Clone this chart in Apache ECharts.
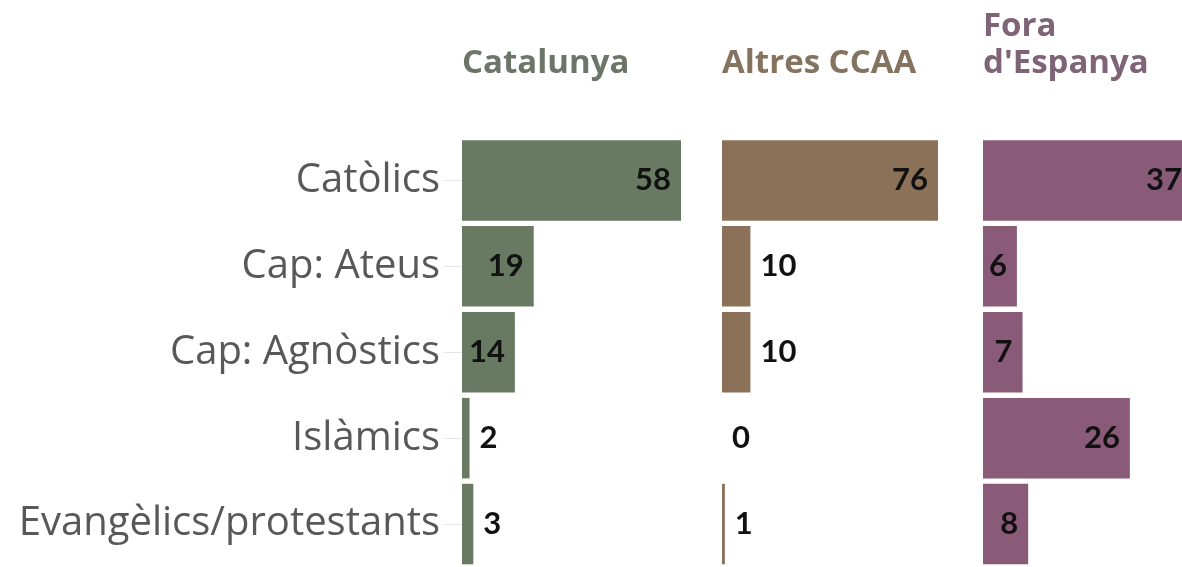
<!DOCTYPE html>
<html>
<head>
<meta charset="utf-8">
<script src="https://cdn.jsdelivr.net/npm/echarts@6/dist/echarts.min.js"></script>
<style>
html,body{margin:0;padding:0;background:#fff;overflow:hidden;width:1182px;height:567px;}
#chart{width:1192px;height:567px;}
</style>
</head>
<body>
<div id="chart"></div>
<script>
const categories = ['Catòlics', 'Cap: Ateus', 'Cap: Agnòstics', 'Islàmics', 'Evangèlics/protestants'];
const panelTitles = ['Catalunya', 'Altres CCAA', "Fora\nd'Espanya"];
const catalunya = [58, 19, 14, 2, 3];
const altresCCAA = [76, 10, 10, 0, 1];
const foraEspanya = [37, 6, 7, 26, 8];

const panelValues = [catalunya, altresCCAA, foraEspanya];
const barColors = ['#687a62', '#8a7158', '#8a5b79'];
const titleColors = ['#6d7568', '#84735f', '#7e6476'];
const gridLeft = [462, 722, 983];
const gridWidth = [219, 216, 209];
const gridTop = 137.5;
const gridHeight = 437.5;

const chart = echarts.init(document.getElementById('chart'), null, {renderer: 'canvas', width: 1192, height: 567});

const grids = [], xAxes = [], yAxes = [], series = [], titles = [];
panelValues.forEach((vals, i) => {
  const max = Math.max(...vals);
  grids.push({left: gridLeft[i], width: gridWidth[i], top: gridTop, height: gridHeight, containLabel: false});
  xAxes.push({type: 'value', gridIndex: i, min: 0, max: max, show: false});
  yAxes.push({
    type: 'category', gridIndex: i, data: categories, inverse: true,
    axisLine: {show: false},
    axisTick: {show: i === 0, alignWithLabel: true, length: 18, lineStyle: {color: '#e6e6e6', width: 1}},
    axisLabel: {
      show: i === 0, margin: 22, fontFamily: 'Open Sans', fontWeight: 400, fontSize: 40, color: '#585858',
      padding: [8, 0, 0, 0]
    }
  });
  series.push({
    type: 'bar', xAxisIndex: i, yAxisIndex: i, barWidth: 80.5,
    itemStyle: {color: barColors[i]},
    silent: true,
    data: vals.map(v => {
      const px = v / max * gridWidth[i];
      const lw = String(v).length * 17;
      const inside = px >= lw + 14;
      return {value: v, label: {position: inside ? 'insideRight' : 'right', distance: 10}};
    }),
    label: {
      show: true, fontFamily: 'Lato', fontWeight: 'bold', fontSize: 31, color: '#111111',
      formatter: p => String(p.value)
    }
  });
  const lines = panelTitles[i].split('\n').length;
  titles.push({
    text: panelTitles[i], left: gridLeft[i], top: 45 - 37 * (lines - 1),
    padding: 0,
    textStyle: {fontFamily: 'Open Sans', fontWeight: 'bold', fontSize: 33, lineHeight: 37, color: titleColors[i]}
  });
});

chart.setOption({
  animation: false,
  backgroundColor: '#ffffff',
  title: titles,
  grid: grids,
  xAxis: xAxes,
  yAxis: yAxes,
  series: series
});
</script>
</body>
</html>
